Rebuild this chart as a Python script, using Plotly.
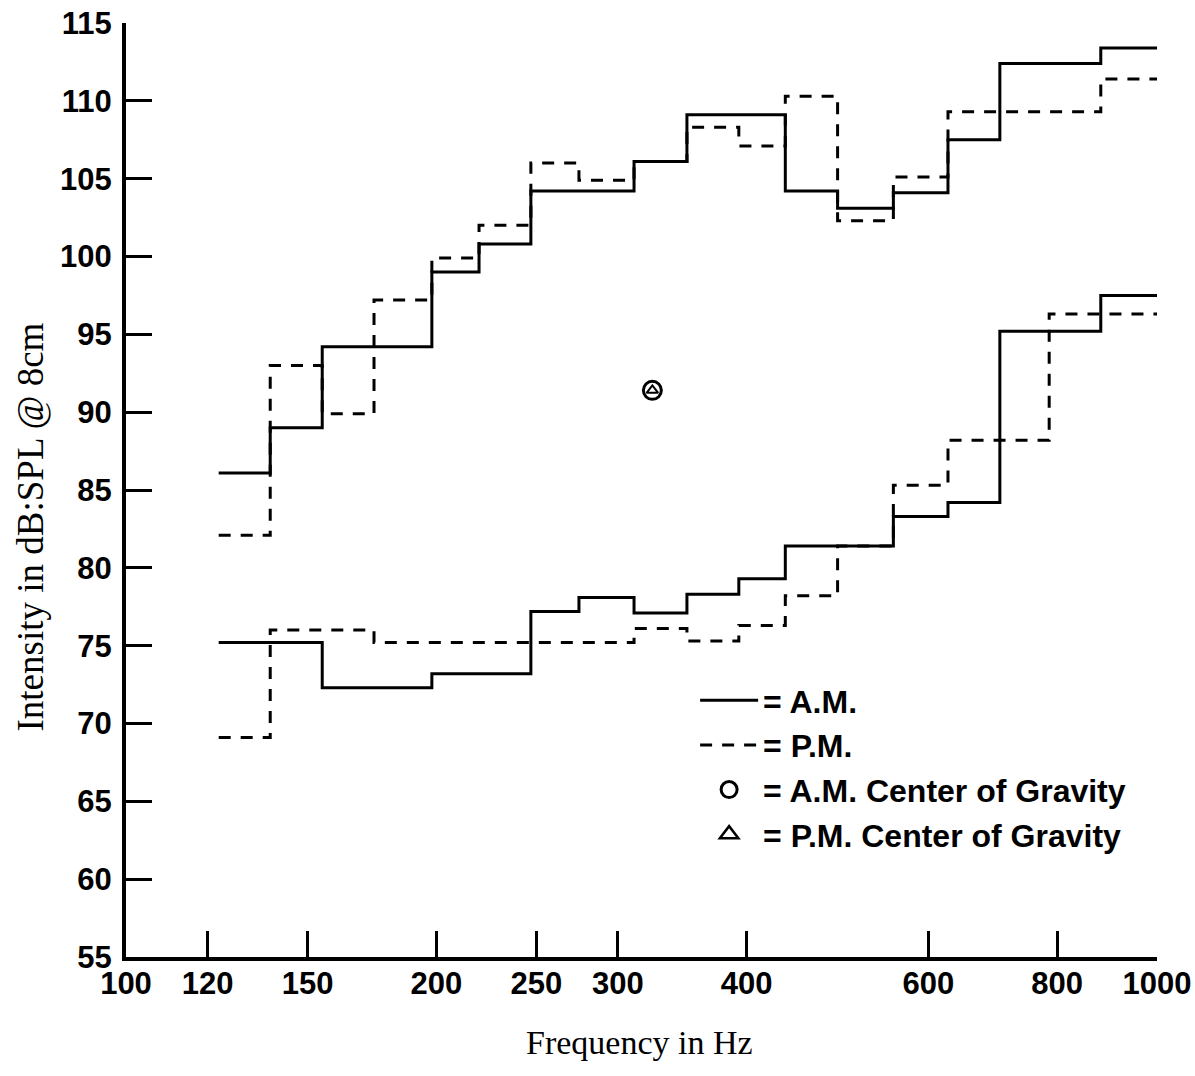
import plotly.graph_objects as go

# band edges (Hz)
band_edges = [123, 138, 155, 174, 198, 220, 247, 275, 311, 350, 393, 436, 490, 555, 627, 704, 786, 882, 1000]

# levels per band (dB SPL @ 8cm)
am_upper = [86.1, 89.0, 94.2, 94.2, 99.0, 100.8, 104.2, 104.2, 106.1, 109.1, 109.1, 104.2, 103.1, 104.1, 107.5, 112.4, 112.4, 113.4]
pm_upper = [82.1, 93.0, 89.9, 97.2, 99.9, 102.0, 106.0, 104.9, 106.1, 108.3, 107.1, 110.3, 102.3, 105.1, 109.3, 109.3, 109.3, 111.4]
am_lower = [75.2, 75.2, 72.3, 72.3, 73.2, 73.2, 77.2, 78.1, 77.1, 78.3, 79.3, 81.4, 81.4, 83.3, 84.2, 95.2, 95.2, 97.5]
pm_lower = [69.1, 76.0, 76.0, 75.2, 75.2, 75.2, 75.2, 75.2, 76.1, 75.3, 76.3, 78.2, 81.4, 85.3, 88.2, 88.2, 96.3, 96.3]

# centers of gravity (Hz, dB)
am_cog = (324, 91.4)
pm_cog = (324, 91.4)

x_ticks = [100, 120, 150, 200, 250, 300, 400, 600, 800, 1000]
y_ticks = [55, 60, 65, 70, 75, 80, 85, 90, 95, 100, 105, 110, 115]

SANS = "Liberation Sans, Arial, sans-serif"
SERIF = "Liberation Serif, Times New Roman, serif"
DASH = "12px,10px"

fig = go.Figure()


def step(vals, dash, name, show):
    fig.add_trace(go.Scatter(
        x=band_edges, y=vals + [vals[-1]],
        mode="lines", line=dict(shape="hv", color="black", width=3, dash=dash),
        name=name, legendgroup=name, showlegend=show))


step(am_upper, "solid", "= A.M.", True)
step(am_lower, "solid", "= A.M.", False)
step(pm_upper, DASH, "= P.M.", True)
step(pm_lower, DASH, "= P.M.", False)

fig.add_trace(go.Scatter(
    x=[am_cog[0]], y=[am_cog[1]], mode="markers",
    marker=dict(symbol="circle-open", size=18, color="black", line=dict(width=3)),
    name="= A.M. Center of Gravity"))
fig.add_trace(go.Scatter(
    x=[pm_cog[0]], y=[pm_cog[1]], mode="markers",
    marker=dict(symbol="triangle-up-open", size=10, color="black", line=dict(width=2)),
    showlegend=False, legendgroup="pm_cog"))
# legend entry only (bigger symbol, like the printed key)
fig.add_trace(go.Scatter(
    x=[None], y=[None], mode="markers",
    marker=dict(symbol="triangle-up-open", size=18, color="black", line=dict(width=2.5)),
    name="= P.M. Center of Gravity", legendgroup="pm_cog"))

fig.update_xaxes(
    type="log", range=[2, 3], tickvals=x_ticks, ticktext=[str(t) for t in x_ticks],
    ticks="inside", ticklen=26, tickwidth=3, tickcolor="black",
    showline=True, linewidth=4, linecolor="black", showgrid=False, zeroline=False,
    tickfont=dict(family=SANS, size=31, color="black", weight="bold"),
    ticklabelstandoff=-4, ticklabeloverflow="allow", automargin=False)
fig.update_yaxes(
    range=[55, 115], tickvals=y_ticks,
    ticks="inside", ticklen=26, tickwidth=3, tickcolor="black",
    showline=True, linewidth=4, linecolor="black", showgrid=False, zeroline=False,
    tickfont=dict(family=SANS, size=31, color="black", weight="bold"),
    ticklabelstandoff=4, ticklabeloverflow="allow", automargin=False)

fig.add_annotation(text="Frequency in Hz", xref="paper", yref="paper", x=0.4985, y=-0.092,
                   xanchor="center", yanchor="middle",
                   showarrow=False, font=dict(family=SERIF, size=34, color="black"))
fig.add_annotation(text="Intensity in dB:SPL @ 8cm", xref="paper", yref="paper", x=-0.093, y=0.46,
                   xanchor="center", yanchor="middle",
                   textangle=-90, showarrow=False, font=dict(family=SERIF, size=37, color="black"))

fig.update_layout(
    width=1195, height=1076,
    margin=dict(l=126, r=38, t=23, b=119),
    paper_bgcolor="white", plot_bgcolor="white",
    legend=dict(x=0.552, y=0.304, xanchor="left", yanchor="top", bgcolor="rgba(0,0,0,0)",
                font=dict(family=SANS, size=32, color="black", weight="bold"),
                tracegroupgap=0, itemwidth=58),
)

# drop the page's default body margin so the figure fills the window, no modebar
fig.write_html("out.html", config={"displayModeBar": False},
               post_script="document.body.style.margin = '0';")
